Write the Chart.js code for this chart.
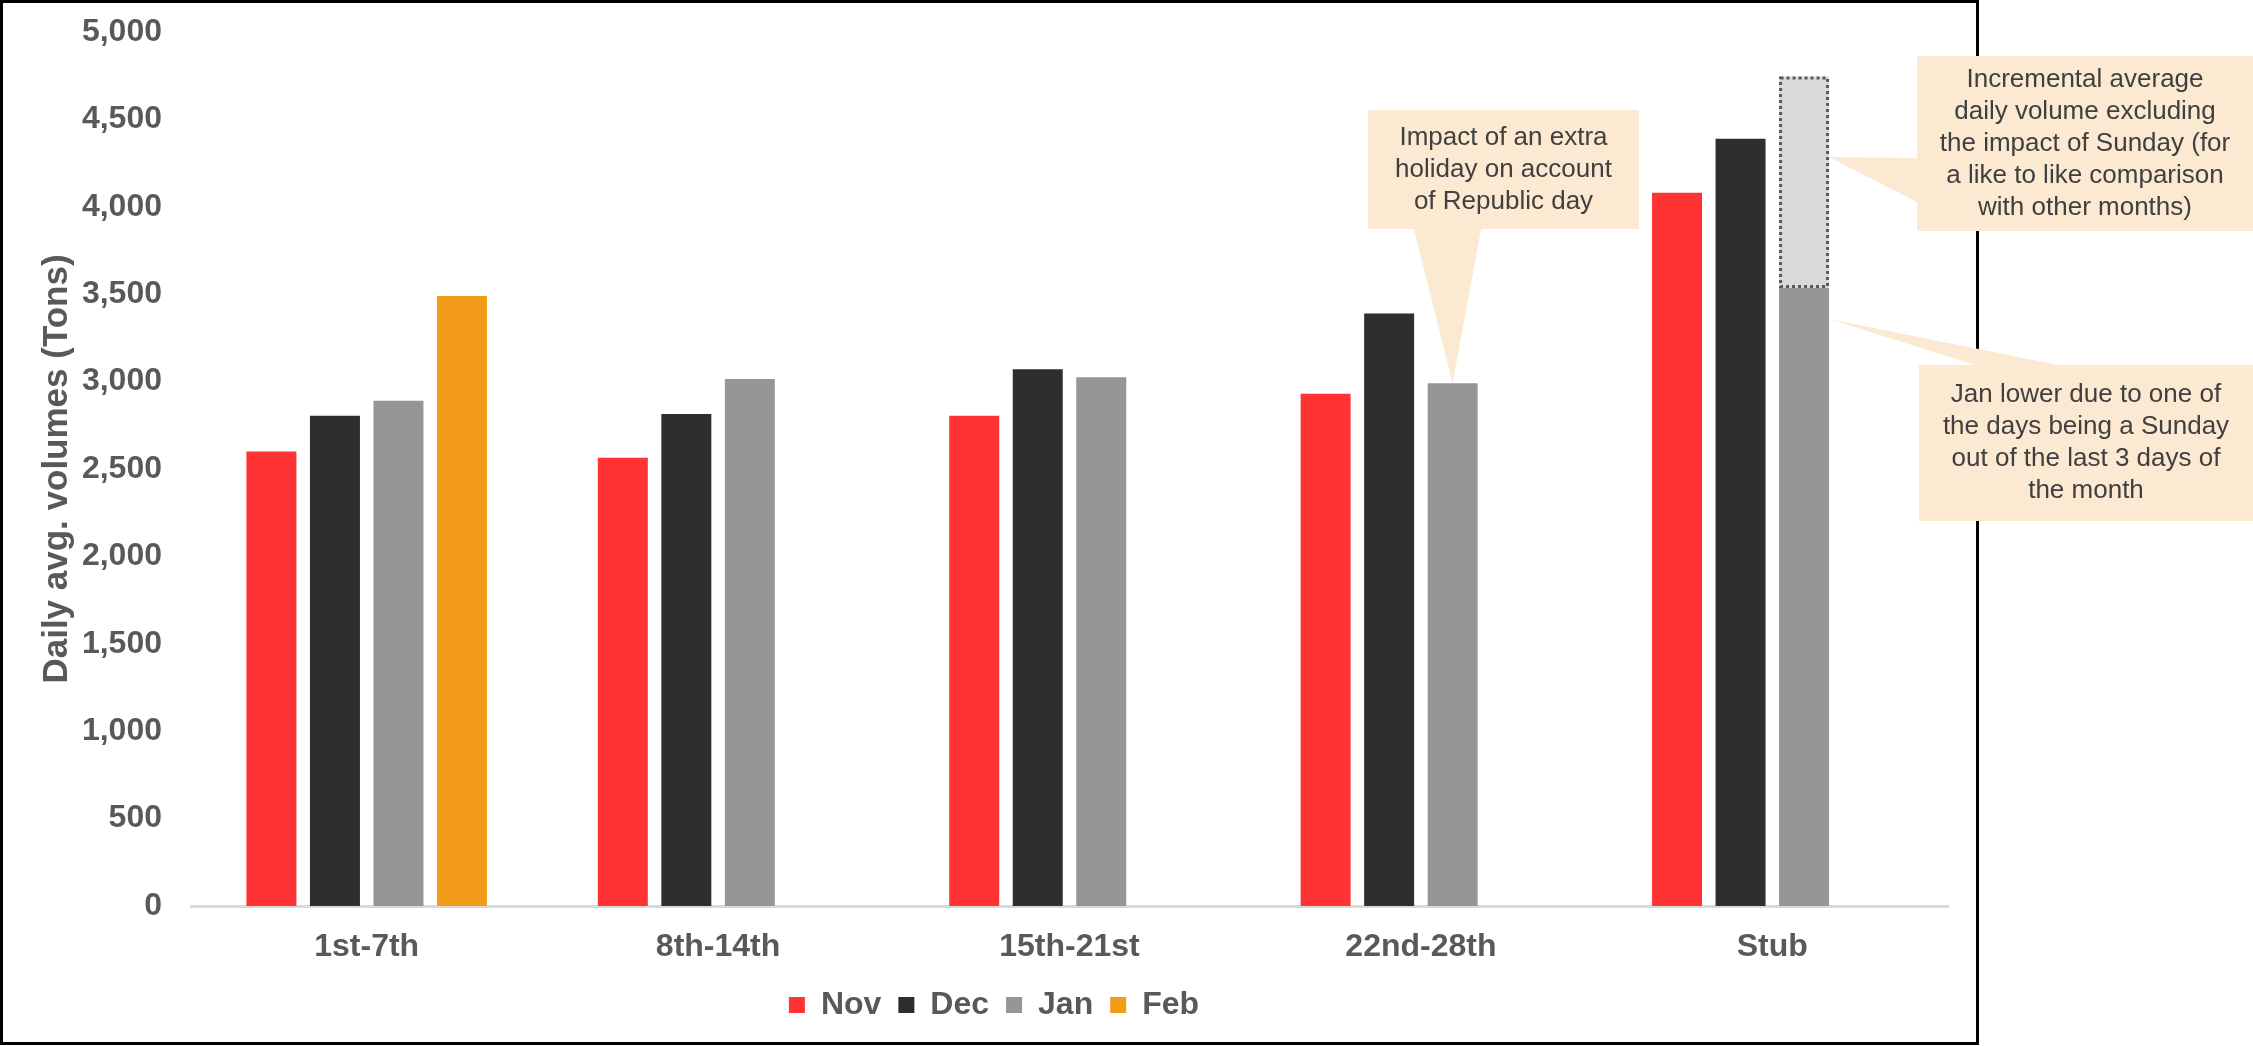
<!DOCTYPE html>
<html>
<head>
<meta charset="utf-8">
<title>Daily avg. volumes</title>
<script src="https://cdn.jsdelivr.net/npm/chart.js@4/dist/chart.umd.min.js"></script>
<style>
  html, body { margin: 0; padding: 0; background: #fff; }
  #wrap { position: relative; width: 2253px; height: 1046px; }
</style>
</head>
<body>
<div id="wrap"><canvas id="grafico"></canvas></div>
<script>
// Dados
const categorias = ['1st-7th', '8th-14th', '15th-21st', '22nd-28th', 'Stub'];
const nov = [2600, 2565, 2805, 2930, 4080];
const dez = [2805, 2815, 3070, 3390, 4390];
const jan = [2890, 3015, 3025, 2990, 3535];
const fev = [3490, null, null, null, null];
// volume incremental sem o efeito do domingo (só no Stub)
const incremental = [null, null, null, null, 1210];
const ticksY = [0, 500, 1000, 1500, 2000, 2500, 3000, 3500, 4000, 4500, 5000];

const corTexto = '#595959';
const fonte = 'Liberation Sans, Arial, sans-serif';

// Caixas de comentário (posição em pixels, ponta calculada a partir das barras)
const comentarios = [
  {
    linhas: ['Impact of an extra', 'holiday on account', 'of Republic day'],
    caixa: [1368, 110, 1639, 229],
    base: [[1414, 229], [1481, 229]],
    ponta: (chart) => {
      const el = chart.getDatasetMeta(2).data[3];
      return [el.x, el.y];
    }
  },
  {
    linhas: ['Incremental average', 'daily volume excluding', 'the impact of Sunday (for', 'a like to like comparison', 'with other months)'],
    caixa: [1917, 56, 2253, 231],
    base: [[1917, 158], [1917, 202]],
    ponta: (chart) => {
      const el = chart.getDatasetMeta(4).data[4];
      return [el.x + el.width / 2, el.y + (el.base - el.y) * 0.38];
    }
  },
  {
    linhas: ['Jan lower due to one of', 'the days being a Sunday', 'out of the last 3 days of', 'the month'],
    caixa: [1919, 365, 2253, 521],
    base: [[1975, 365], [2058, 365]],
    ponta: (chart) => {
      const el = chart.getDatasetMeta(2).data[4];
      return [el.x + el.width / 2, el.y + (el.base - el.y) * 0.05];
    }
  }
];

// Moldura preta em volta do gráfico
const molduraPlugin = {
  id: 'moldura',
  beforeDraw(chart) {
    const ctx = chart.ctx;
    ctx.save();
    ctx.fillStyle = '#ffffff';
    ctx.fillRect(0, 0, chart.width, chart.height);
    ctx.strokeStyle = '#000000';
    ctx.lineWidth = 3;
    ctx.strokeRect(1.5, 1.5, 1976, 1042);
    ctx.restore();
  }
};

// Borda pontilhada da barra incremental
const tracejadoPlugin = {
  id: 'tracejado',
  afterDatasetsDraw(chart) {
    const meta = chart.getDatasetMeta(4);
    const ctx = chart.ctx;
    ctx.save();
    ctx.strokeStyle = '#595959';
    ctx.lineWidth = 3;
    ctx.setLineDash([3, 3]);
    meta.data.forEach((el, i) => {
      if (incremental[i] == null) return;
      const w = el.width;
      ctx.strokeRect(el.x - w / 2 + 1.5, el.y + 1.5, w - 3, el.base - el.y - 3);
    });
    ctx.restore();
  }
};

// Balões de comentário
const comentariosPlugin = {
  id: 'comentarios',
  afterDraw(chart) {
    const ctx = chart.ctx;
    ctx.save();
    comentarios.forEach(c => {
      const [x1, y1, x2, y2] = c.caixa;
      const [px, py] = c.ponta(chart);
      ctx.fillStyle = '#FBE9D1';
      ctx.fillRect(x1, y1, x2 - x1, y2 - y1);
      ctx.beginPath();
      ctx.moveTo(c.base[0][0], c.base[0][1]);
      ctx.lineTo(px, py);
      ctx.lineTo(c.base[1][0], c.base[1][1]);
      ctx.closePath();
      ctx.fill();

      ctx.fillStyle = '#404040';
      ctx.font = '26px ' + fonte;
      ctx.textAlign = 'center';
      ctx.textBaseline = 'middle';
      const alturaLinha = 32;
      const cx = (x1 + x2) / 2;
      const cy = (y1 + y2) / 2;
      const y0 = cy - (c.linhas.length - 1) * alturaLinha / 2;
      c.linhas.forEach((t, i) => ctx.fillText(t, cx, y0 + i * alturaLinha));
    });
    ctx.restore();
  }
};

function criarGrafico() {
  const ctx = document.getElementById('grafico').getContext('2d');
  new Chart(ctx, {
    type: 'bar',
    data: {
      labels: categorias,
      datasets: [
        { label: 'Nov', data: nov, backgroundColor: '#FF3333', stack: 'nov' },
        { label: 'Dec', data: dez, backgroundColor: '#2E2E2E', stack: 'dec' },
        { label: 'Jan', data: jan, backgroundColor: '#969696', stack: 'jan' },
        { label: 'Feb', data: fev, backgroundColor: '#F39C1A', stack: 'feb' },
        { label: 'Incremental', data: incremental, backgroundColor: '#D9D9D9', stack: 'jan' }
      ].map(d => Object.assign(d, {
        borderWidth: 0,
        categoryPercentage: 0.723,
        barPercentage: 0.787
      }))
    },
    options: {
      responsive: true,
      maintainAspectRatio: false,
      animation: false,
      devicePixelRatio: 1,
      layout: { padding: { left: 40, right: 305, top: 32, bottom: 15 } },
      scales: {
        x: {
          grid: { display: false, drawTicks: false },
          border: { display: true, color: '#D9D9D9', width: 3 },
          ticks: {
            color: corTexto,
            font: { family: fonte, size: 32, weight: 'bold' },
            padding: 22,
            autoSkip: false,
            maxRotation: 0
          },
          afterFit(scale) { scale.height = 66; }
        },
        y: {
          min: 0,
          max: 5000,
          grid: { display: false, drawTicks: false },
          border: { display: false },
          afterBuildTicks(scale) { scale.ticks = ticksY.map(v => ({ value: v })); },
          ticks: {
            color: corTexto,
            font: { family: fonte, size: 32, weight: 'bold' },
            padding: 29,
            callback: v => v.toLocaleString('en-US')
          },
          title: {
            display: true,
            text: 'Daily avg. volumes (Tons)',
            color: corTexto,
            font: { family: fonte, size: 35, weight: 'bold', lineHeight: 1 },
            padding: 0
          },
          afterFit(scale) {
            scale.width = 151;
            scale.paddingTop = 0;
            scale.paddingBottom = 0;
          }
        }
      },
      plugins: {
        legend: {
          display: true,
          position: 'bottom',
          labels: {
            color: corTexto,
            font: { family: fonte, size: 32, weight: 'bold' },
            boxWidth: 16,
            boxHeight: 16,
            padding: 17,
            filter: item => item.text !== 'Incremental'
          }
        },
        tooltip: { enabled: false }
      }
    },
    plugins: [molduraPlugin, tracejadoPlugin, comentariosPlugin]
  });
}

criarGrafico();
</script>
</body>
</html>
